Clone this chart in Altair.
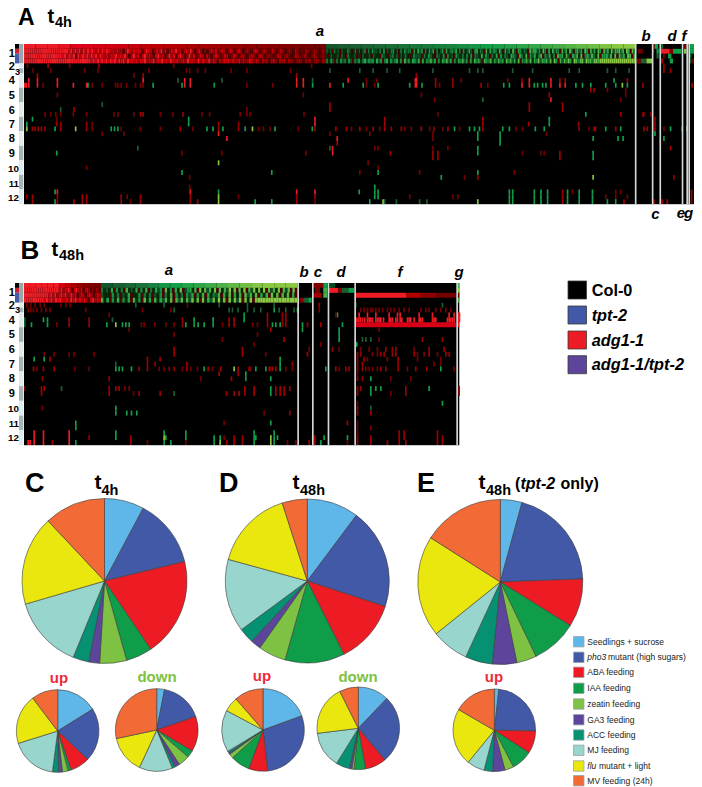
import altair as alt
import pandas as pd

W, H = 686, 779
FONT = "Liberation Sans"

# ---------- pies: slice sizes in degrees, clockwise from the top ----------
CATS = ["Seedlings + sucrose", "pho3", "ABA feeding", "IAA feeding", "zeatin feeding",
        "GA3 feeding", "ACC feeding", "MJ feeding", "flu", "MV feeding (24h)"]
COLS = ["#5eb7e8", "#4259a7", "#ed1c24", "#0f9d4a", "#7dc242",
        "#5c459b", "#069173", "#97d5cd", "#eae70f", "#f26a36"]
PIE_C = [28, 48.4, 69.5, 18.5, 19, 7.6, 11.3, 51.4, 63.1, 43.2]
PIE_D = [36.8, 71.3, 45.3, 42.4, 19.6, 7.3, 10.9, 51.7, 56.9, 17.8]
PIE_E = [15.3, 72.6, 34, 32.5, 14, 17.2, 19.2, 26.3, 71.3, 57.6]
PIE_C_UP = [58, 75.4, 27.6, 4.5, 8, 5.5, 8.4, 65.2, 70.2, 37.2]
PIE_C_DOWN = [11, 60, 49.6, 10.1, 15.9, 7, 4.2, 46.9, 53.3, 102]
PIE_D_UP = [70, 103.5, 26.8, 27.3, 6.4, 2, 2.8, 59.2, 21, 41]
PIE_D_DOWN = [43.7, 96.3, 29.8, 16.2, 3, 3.5, 19.3, 51.2, 70.4, 26.6]
PIE_E_UP = [6.5, 84.5, 31.8, 29.6, 12.6, 17.3, 12.2, 24.8, 80.9, 59.8]

# ---------- heatmap levels ----------
R, M, D, G, K, L = 3, 1.6, 0.8, -1.5, -0.8, -3

A_TOP_RED = [3, 3, 3, 2.9, 2.8, 2.7, 2.6, 2.5, 2.4, 2.3, 2.2, 2.1, 2, 1.9, 1.8, 1.7, 1.6, 1.5, 1.4, 1.3, 1.2, 1.1, 1, .9, .8, .7]
A_TOP_GRN = [-.7, -.75, -.8, -.85, -.9, -.95, -1, -1.05, -1.1, -1.15, -1.2, -1.3, -1.4, -1.5, -1.55, -1.6, -1.7, -1.8, -1.9, -2, -2.2, -2.4, -2.6, -2.8, -3, -3]
A_S1_RED = "9999999999999999999997979896979798696979867686706975868706976058695705859570684950485040584705750385047503640584036402740364025306402053025301" + "42"
A_S2_RED = "99999999999999999897989097979897969768687968696079580796750795704968079504957048507404850375037404630474037403530275035301640253025301" + "42"
A_S3_RED = "99999999999999999999999999999998989798979897989697878687967795869785976866859676595856958606486847558474586375063505740546054303540434035304" + "3"
A_S1_GRN = "2120312021132013021230314221314021341203142330415240314250312405134251304125204513206152431620524162054132063552417305162430625173046251740625174063518265736185073"
A_S2_GRN = "10211202103112010211202110321023120213101322203142103214031204213131403215142031504132154205316042513604251306451620536170452631705452617063517605"
A_S3_GRN = "31420314231420324135243415240351423514062415425051436250415362504153624051635206437152635173625170436271538264627184062738519637829573886999999999999999999"

B_TOP_RED = [3, 3, 3, 3, 3, 3, 2.6, 2.2, 1.8, 1.4, 1.1, .9, .7]
B_TOP_GRN = [-.7, -.8, -.9, -1, -1.2, -1.4, -1.5, -1.6, -1.7, -1.9, -2.1, -2.4, -2.6, -2.9, -3, -3, -3]
B_S1_RED = "999999999999999999979687960796580685040530"
B_S2_RED = "99999999999989796897967968058606850475"
B_S3_RED = "99999999989897989768597968586079685"
B_S1_GRN = "31215041306121504160315240714051702451608172618071629180719062918190726180627080"
B_S2_GRN = "21104130215011403130214031604130425041605132605170516072617051608170617050"
B_S3_GRN = "61504160415061407150615261706271628170816271918081829081908999999999999999"

# (row, level, columns)
A_LEFT = [
 (4, D, [80, 207, 520, 935]), (4, M, [142, 295]),
 (5, D, [97, 150, 252, 292, 445, 558, 568, 592, 615, 692, 740, 872]), (5, K, [990]),
 (6, M, [110, 428, 890]), (6, D, [400]),
 (7, R, [84, 110, 170, 428, 553, 570, 890, 910, 1045]), (7, K, [533, 665, 938]),
 (8, R, [72, 76, 84, 110, 170, 218, 258, 553, 570, 890, 910, 990]), (8, D, [127, 275, 305, 345, 352, 362, 378, 405, 420, 428, 740, 818]), (8, G, [262, 458, 545, 642, 938, 1030]),
 (10, D, [170, 910]), (12, K, [305]), (12, M, [990]), (13, K, [180]), (13, M, [220, 990]), (13, D, [740]),
 (14, D, [133, 150, 165, 180, 218, 258, 340, 352, 400, 480, 518, 605, 628, 720, 740, 750, 912]), (14, M, [420, 428, 548]),
 (15, G, [95, 565]), (15, D, [168]), (15, R, [945]),
 (16, M, [168, 180, 258, 655, 715]), (16, G, [78, 565]), (16, R, [945]), (16, D, [275]),
 (17, L, [78, 225]), (17, M, [95, 103, 112, 122, 133, 180, 258, 540, 655, 715, 945, 1008, 1040]), (17, G, [163, 332, 342, 352, 620, 638, 668, 735, 825, 937]),
 (17, D, [275, 362, 420, 480, 578, 775, 790, 810, 895]), (17, L, [757]),
 (18, D, [305, 370, 990]), (18, R, [655]), (19, R, [680, 1012]), (20, M, [1012]),
 (21, K, [412, 990]), (22, G, [168]), (22, D, [545, 665, 918]), (22, R, [998]), (21, R, [998]),
 (24, L, [655]), (25, D, [258]), (26, G, [545, 815]), (27, D, [568]), (29, D, [568]),
 (30, G, [163, 655]), (30, R, [170, 570, 890, 945]),
 (31, M, [78, 95, 170, 245, 258, 362, 420, 570, 890, 945]), (31, L, [655]), (31, D, [380, 715]),
 (32, M, [95, 170, 220, 245, 258, 362, 420, 570, 592, 890]), (32, G, [163, 765, 815]), (32, L, [655]), (32, D, [390, 945]),
]
A_RIGHT = [
 (5, K, [30, 70, 112, 150, 250, 360, 385, 400, 490, 550, 660, 690, 775, 800, 840]),
 (6, M, [200]), (7, R, [197, 201, 540, 605]), (7, M, [258, 310, 518, 632, 648, 835]), (7, D, [50, 80, 335, 475]), (7, G, [795]),
 (8, R, [197, 201, 518, 540, 605, 632, 648]), (8, M, [258, 310, 395, 882, 1030]), (8, D, [50, 270, 415, 75]),
 (8, G, [40, 85, 180, 217, 463, 480, 555, 565, 580, 590, 680, 700, 725, 770, 800, 835]), (8, L, [820]),
 (9, M, [725, 735]), (9, D, [775, 830]), (10, D, [215, 830]), (10, M, [600]), (11, D, [255, 815]), (11, K, [400]), (11, R, [605]),
 (12, M, [540, 640]), (13, M, [540, 640]), (14, D, [265, 885, 905]), (14, G, [710]), (14, M, [815, 882]),
 (15, M, [105, 400, 918]), (15, G, [600]), (16, M, [105, 400, 538, 688, 918]), (16, G, [600]),
 (17, M, [30, 70, 105, 125, 155, 215, 253, 295, 400, 690, 735, 739, 800, 885, 895, 918]), (17, D, [5, 50, 90, 165, 185, 240, 280, 330, 500, 520, 720, 945]),
 (17, G, [315, 360, 375, 390, 460, 480, 558, 585, 770, 815, 965, 1000]), (17, L, [1015]),
 (18, D, [60, 250, 592]), (18, G, [385, 452, 918]), (19, D, [250]), (19, G, [385, 452, 732, 807, 822, 945]), (20, G, [452]),
 (21, D, [75, 85, 250, 295]), (21, G, [385]), (21, M, [965]), (22, M, [122, 250, 265, 632]), (22, G, [385, 732]), (22, D, [520, 575, 585]),
 (23, M, [250, 265, 632]), (23, G, [732]), (24, D, [55]), (25, D, [85]), (26, G, [85, 385]), (26, D, [30, 210, 495]),
 (27, D, [345]), (27, G, [275]), (27, L, [732]), (27, M, [385, 975]), (29, G, [75]),
 (30, G, [28, 75, 85, 480, 490, 555, 575, 595, 655, 690, 730]), (30, M, [640, 1028]), (30, D, [670, 800, 815]),
 (31, G, [75, 85, 480, 490, 555, 575, 595, 655, 690, 730]), (31, D, [180, 310, 325, 770, 800, 835]), (31, M, [640, 1028]),
 (32, G, [60, 480, 490, 555, 575, 595, 655, 690, 730, 775, 800]), (32, L, [100, 385]), (32, K, [105, 140, 210, 232]), (32, M, [640, 825, 915, 940, 955, 1028]),
 (4, M, [945]), (5, M, [945, 965]),
]
# (first column, last column, row, level)
A_SPANS = [
 (865, 878, 3, 1), (878, 895, 3, K), (895, 912, 3, L), (868, 885, 1, .4),
 (915, 920, 0, M), (920, 930, 0, G), (915, 918, 1, M), (925, 932, 1, G), (925, 932, 2, K),
 (940, 945, 0, -1), (937, 965, 1, R), (965, 975, 1, 1), (975, 1000, 1, G), (960, 970, 2, G), (945, 950, 2, 1),
 (937, 945, 3, M), (965, 975, 3, G), (1008, 1015, 0, 1), (1008, 1015, 1, L),
 (1024, 1038, 0, G), (1024, 1038, 1, G), (1024, 1030, 2, -1), (1024, 1030, 3, K), (1030, 1038, 3, .6),
]
A_SEPS = [1910, 1961, 1984, 2051, 2065, 2071]

B_LEFT = [
 (4, D, [78, 90, 103, 118, 130, 180, 195, 208, 560]), (4, K, [405, 490, 655]),
 (5, D, [82, 90, 98, 108, 122, 135, 148, 255, 425, 510]), (5, K, [520, 685, 695, 712]),
 (6, D, [325]), (7, K, [72, 335]), (7, G, [128, 140, 580, 637]), (7, M, [205, 265, 545, 685, 700]),
 (8, K, [72]), (8, G, [92, 140, 318, 365, 375, 385, 555, 580, 592, 610, 637]), (8, L, [345]), (8, M, [205, 265, 545, 685, 700]),
 (8, D, [168, 422, 430, 462, 495, 520, 665]), (9, D, [385]), (10, D, [520]), (11, D, [665]), (13, M, [520]),
 (14, D, [130, 160, 205, 220, 280]), (14, M, [520]), (15, G, [100, 130]), (15, M, [148, 478, 440]), (16, K, [345]), (16, M, [440, 463, 558]),
 (17, M, [98, 128, 160, 415, 440, 520, 558, 622, 660, 712]), (17, D, [108, 222, 265, 475, 490, 505, 545, 570, 590, 635]),
 (17, G, [345, 355, 365, 392, 610]), (17, L, [700]), (18, M, [655, 712]), (19, M, [125, 325, 692]), (19, D, [600]),
 (21, M, [122, 130, 325, 345, 355]), (21, K, [182]), (21, D, [72, 372, 385]), (22, M, [122, 325, 415, 478, 677, 700, 715]), (22, D, [398]), (22, K, [520]),
 (25, D, [125]), (25, G, [345]), (26, G, [345, 378, 392, 408]), (28, G, [225]), (28, D, [670]), (29, G, [225]),
 (30, R, [100, 128, 205]), (30, G, [345, 490, 555]), (31, R, [100, 128, 205]), (31, M, [265, 390, 700]), (31, G, [345, 555, 640, 658, 495]), (31, L, [490]), (31, D, [670]),
 (32, R, [82, 88, 100, 128, 205]), (32, M, [155, 390, 678, 700]), (32, G, [225, 490, 510, 640]), (32, D, [440, 555]), (32, L, [658]),
]
B_RIGHT = [
 (4, K, [20, 100, 345, 605]), (4, M, [235]),
 (5, K, [20, 40, 60, 115, 135, 160]), (5, G, [100, 170]), (5, D, [235, 360, 370, 380, 390, 395, 405, 415, 425, 440, 450, 460, 475, 490, 505, 540, 555, 565, 585, 600, 615, 630]),
 (6, G, [10, 290]), (6, M, [80, 125, 135]), (6, D, [285]), (6, R, [355, 380, 405, 445, 470, 478, 535, 575, 625, 640, 652, 656]),
 (7, G, [10]), (7, M, [80, 125, 135]), (7, R, [348, 353, 358, 365, 372, 380, 385, 390, 395, 405, 410, 415, 420, 428, 445, 450, 455, 465, 470, 478, 483, 500, 505, 510, 520, 535, 540, 545, 575, 580, 585, 620, 625, 630, 635, 640, 652, 656]),
 (8, D, [35, 50]), (8, M, [80, 125, 135, 200, 240]), (8, G, [95, 105, 118, 185, 305]),
 (9, M, [90]), (9, G, [185, 295]), (9, D, [415]), (10, D, [50]), (10, G, [295]), (11, M, [130, 545, 605]), (11, G, [295]), (11, K, [365, 375, 390]), (11, D, [415]),
 (12, D, [40, 240]), (12, G, [348]),
 (13, M, [5, 275, 435, 455, 465, 565, 610]), (13, D, [205, 295, 360, 385, 410, 520]),
 (14, M, [5, 200, 350, 360, 420, 430, 455, 465, 520, 565, 615, 625]), (14, D, [75, 395, 410, 530, 550, 590]),
 (15, G, [118]), (15, M, [350, 370, 472]), (15, D, [380, 440, 530, 600]),
 (16, G, [118]), (16, M, [155, 350, 365, 472]), (16, D, [580, 600]),
 (17, M, [25, 85, 95, 105, 285, 315, 325, 350, 365, 420, 435, 472, 525, 558]), (17, D, [30, 90, 135, 155, 295, 375, 385, 395, 410, 500, 640]), (17, G, [45, 75, 118, 255, 600]),
 (18, G, [15]), (18, D, [350]), (19, G, [15, 90, 390]), (19, M, [350, 365]), (19, D, [450, 510]),
 (21, M, [12, 40, 105, 118, 130, 147, 350, 360, 495, 655]), (21, G, [90, 390, 405, 420, 565]),
 (22, M, [12, 40, 350, 495, 655, 105, 118, 130]), (22, G, [90, 390]), (22, D, [450]),
 (24, G, [605]), (24, D, [350]), (25, M, [350]), (25, K, [390]), (26, D, [70]), (26, M, [147, 350, 390]),
 (28, G, [90]), (28, M, [320]), (28, D, [350]), (29, D, [350, 390]),
 (30, G, [40, 100]), (30, D, [350]), (30, M, [475, 490, 590]),
 (31, M, [5, 215, 222, 350, 390, 475, 490, 590, 605]), (31, G, [40, 45, 100, 110, 250, 320]), (31, L, [90]),
 (32, M, [5, 205, 222, 350, 390, 440, 475, 495, 590, 605]), (32, G, [40, 100, 240]), (32, L, [90]), (32, D, [140, 165, 320]),
]
B_SPANS = [
 (178, 190, 3, 1), (190, 205, 3, K), (205, 215, 3, G),
 (218, 250, 0, 1), (250, 262, 0, G), (225, 240, 1, .9), (250, 262, 1, -2), (218, 245, 2, M), (250, 262, 2, -2),
 (270, 285, 0, -.6), (267, 295, 1, R), (295, 305, 1, 1), (305, 325, 1, K), (325, 342, 1, G),
 (346, 500, 2, R), (500, 540, 2, 2), (540, 590, 2, 1.3), (590, 648, 2, D),
 (346, 648, 8, 2.6), (652, 658, 8, R), (652, 658, 0, -2), (652, 658, 1, L), (652, 658, 2, D), (652, 658, 3, -2),
]
B_SEPS = [892, 936, 983, 1063, 1369]

GRAD_D = [-3, -1.5, -0.75, 0, 3]
GRAD_R = ["#8bc943", "#10a04a", "#1b5a30", "#000000", "#ee1c25"]
COLOR = alt.Color("v:Q", scale=alt.Scale(domain=GRAD_D, range=GRAD_R), legend=None)

layers = []


def panel(xdom, xrng, yrng, top_r, top_g, split, gend, speck, left, right, off, spans, seps):
    xs = alt.Scale(domain=xdom, range=xrng, nice=False, zero=False)
    ys = alt.Scale(domain=[0, 33], range=yrng, nice=False, zero=False)
    X = alt.X("x0:Q", scale=xs, axis=None)
    Y = alt.Y("r0:Q", scale=ys, axis=None)

    def rect(rows, enc_color):
        return alt.Chart(pd.DataFrame(rows)).mark_rect(strokeWidth=0).encode(
            x=X, x2="x1:Q", y=Y, y2="r1:Q", color=enc_color)

    side = [dict(x0=45, x1=57, r0=0, r1=1, c="#000000"), dict(x0=45, x1=57, r0=1, r1=2, c="#cf2030"),
            dict(x0=45, x1=57, r0=2, r1=4, c="#4a5aa8"), dict(x0=57, x1=70, r0=0, r1=4, c="#98a8a8"),
            dict(x0=57, x1=70, r0=4, r1=5, c="#e2ebeb"), dict(x0=57, x1=70, r0=5, r1=6, c="#a5b5b5")]
    for k in range(9):
        side.append(dict(x0=57, x1=70, r0=6 + 3 * k, r1=9 + 3 * k, c="#e2ebeb" if k % 2 == 0 else "#a5b5b5"))
    layers.append(rect(side, alt.Color("c:N", scale=None)))
    layers.append(rect([dict(x0=xdom[0], x1=xdom[1], r0=0, r1=33, c="#000000")], alt.Color("c:N", scale=None)))

    def strip(vals, a, b, r, out):
        w = (b - a) / len(vals)
        for i, v in enumerate(vals):
            out.append(dict(x0=a + w * i, x1=a + w * (i + 1), r0=r, r1=r + 1, v=v))

    cells = []
    strip(top_r, xdom[0], split, 0, cells)
    strip(top_g, split, gend, 0, cells)
    for r, (sr, sg) in enumerate(speck, start=1):
        strip([int(c) / 3 for c in sr], xdom[0], split, r, cells)
        strip([-int(c) / 3 for c in sg], split, gend, r, cells)
    for a, b, r, v in spans:
        cells.append(dict(x0=a + off, x1=b + off, r0=r, r1=r + 1, v=v))
    for r, v, cols in left:
        for c in cols:
            cells.append(dict(x0=c, x1=c + 5, r0=r, r1=r + 1, v=v))
    for r, v, cols in right:
        for c in cols:
            cells.append(dict(x0=c + off, x1=c + off + 5, r0=r, r1=r + 1, v=v))
    layers.append(rect(cells, COLOR))

    lines = [dict(x0=s, x1=s + 5, r0=0, r1=33, c="#d3d8d8") for s in seps]
    lines.append(dict(x0=xdom[0], x1=xdom[1], r0=33, r1=33.2, c="#c9cfcf"))
    layers.append(rect(lines, alt.Color("c:N", scale=None)))


panel([72, 2088], [16, 686], [36, 196], A_TOP_RED, A_TOP_GRN, 981, 1912,
      [(A_S1_RED, A_S1_GRN), (A_S2_RED, A_S2_GRN), (A_S3_RED, A_S3_GRN)], A_LEFT, A_RIGHT, 1050, A_SPANS, A_SEPS)
panel([72, 1378], [16, 451.3], [275, 437], B_TOP_RED, B_TOP_GRN, 303, 892,
      [(B_S1_RED, B_S1_GRN), (B_S2_RED, B_S2_GRN), (B_S3_RED, B_S3_GRN)], B_LEFT, B_RIGHT, 720, B_SPANS, B_SEPS)


def pie(vals, cx, cy, r):
    df = pd.DataFrame({"cat": CATS, "v": vals, "i": list(range(len(CATS)))})
    layers.append(alt.Chart(df).mark_arc(outerRadius=r, stroke="#3c3c3c", strokeWidth=0.6).encode(
        theta=alt.Theta("v:Q", stack=True),
        order=alt.Order("i:Q"),
        color=alt.Color("cat:N", scale=alt.Scale(domain=CATS, range=COLS), legend=None),
        x=alt.value(cx - 8), y=alt.value(cy - 8)))


pie(PIE_C, 104.5, 581, 82.5)
pie(PIE_D, 307.3, 581, 82)
pie(PIE_E, 500.3, 582, 82.5)
pie(PIE_C_UP, 57.7, 731, 41.3)
pie(PIE_C_DOWN, 156.7, 730, 41.3)
pie(PIE_D_UP, 263, 730, 41.3)
pie(PIE_D_DOWN, 358.3, 728.3, 41.3)
pie(PIE_E_UP, 494.3, 730.3, 41.3)


def txt(s, x, y, size, bold=True, italic=False, color="#000000", align="left"):
    layers.append(alt.Chart(pd.DataFrame({"t": [s]})).mark_text(
        font=FONT, fontSize=size, fontWeight="bold" if bold else "normal",
        fontStyle="italic" if italic else "normal", align=align, baseline="alphabetic", color=color
    ).encode(text="t:N", x=alt.value(x - 8), y=alt.value(y - 8)))


def swatch(x0, y0, x1, y1, fill, stroke, sw):
    layers.append(alt.Chart(pd.DataFrame({"k": [fill]})).mark_rect(stroke=stroke, strokeWidth=sw).encode(
        x=alt.value(x0 - 8), x2=alt.value(x1 - 8), y=alt.value(y0 - 8), y2=alt.value(y1 - 8),
        color=alt.Color("k:N", scale=None)))


# panel letters and titles (the drawing area starts at the page margin, y = 8)
txt("A", 18, 25, 23); txt("t", 47.5, 23, 20); txt("4h", 55, 27, 14.5)
txt("B", 20.5, 259, 26); txt("t", 51.5, 256, 20); txt("48h", 59, 260, 14.5)
txt("C", 25, 492, 27); txt("t", 94.5, 489, 21); txt("4h", 101.5, 495, 14.5)
txt("D", 219, 492, 27); txt("t", 292.5, 489, 21); txt("48h", 300, 495, 14.5)
txt("E", 417, 492, 27); txt("t", 478.5, 489, 21); txt("48h", 486, 495, 14.5)
txt("(", 515, 489, 16); txt("tpt-2", 520.5, 489, 16, italic=True); txt("only)", 560.5, 489, 16)

# cluster letters
for s, x, y in [("a", 320, 36), ("b", 646, 41), ("d", 672, 41), ("f", 684, 41), ("c", 655.5, 219), ("e", 681, 218), ("g", 688.5, 218),
                ("a", 169, 275), ("b", 304, 277), ("c", 318, 277), ("d", 341, 277), ("f", 400, 277), ("g", 459, 277)]:
    txt(s, x, y, 15, italic=True, align="center")

# row labels
ONE = ["1", "2", "4", "5", "6", "7", "8", "9"]
TWO = ["10", "11", "12"]
for s, y in zip(ONE, [57, 69.5, 84, 99, 114, 128, 142, 157]):
    txt(s, 14.8, y, 11, align="right")
for s, y in zip(TWO, [172, 187, 201]):
    txt(s, 19, y, 9.8, align="right")
txt("3", 15, 75, 9)
for s, y in zip(ONE, [296, 309, 324, 338, 353, 368, 382, 397]):
    txt(s, 14.8, y, 11, align="right")
for s, y in zip(TWO, [412, 427, 441]):
    txt(s, 19, y, 9.8, align="right")
txt("3", 15, 313, 9)

# up / down
RED_T, GRN_T = "#ee2a3a", "#7dc242"
txt("up", 59, 682.7, 15, color=RED_T, align="center")
txt("down", 157, 681.7, 15, color=GRN_T, align="center")
txt("up", 262, 680.7, 15, color=RED_T, align="center")
txt("down", 358, 682, 15, color=GRN_T, align="center")
txt("up", 494, 681.7, 15, color=RED_T, align="center")

# genotype legend
GENO = ["Col-0", "tpt-2", "adg1-1", "adg1-1/tpt-2"]
GENO_C = ["#000000", "#4259a7", "#ed1c24", "#5c459b"]
for s, c, y0, b, it in zip(GENO, GENO_C, [281, 306, 331, 355.7], [296, 321, 346, 370], [False, True, True, True]):
    swatch(568, y0, 586.5, y0 + 18, c, "#3a3a3a", 0.8)
    txt(s, 591.7, b, 16.3, italic=it)

# treatment legend
ROWS = [641.7, 657.3, 672.3, 688.3, 704, 719.7, 735, 750.3, 766, 780.7]
for c, y in zip(COLS, ROWS):
    swatch(573.5, y - 5.2, 584, y + 5.2, c, "#9aa5a8", 0.8)
TXT = "#222222"
for s, i in [("Seedlings + sucrose", 0), ("ABA feeding", 2), ("IAA feeding", 3), ("zeatin feeding", 4),
             ("GA3 feeding", 5), ("ACC feeding", 6), ("MJ feeding", 7), ("MV feeding (24h)", 9)]:
    txt(s, 587.3, ROWS[i] + 3, 8.5, bold=False, color=TXT)
txt("pho3", 587.3, ROWS[1] + 3, 8.5, bold=False, italic=True, color=TXT)
txt("mutant (high sugars)", 608, ROWS[1] + 3, 8.5, bold=False, color=TXT)
txt("flu", 587.3, ROWS[8] + 3, 8.5, bold=False, italic=True, color=TXT)
txt("mutant + light", 599, ROWS[8] + 3, 8.5, bold=False, color=TXT)

chart = alt.layer(*layers).resolve_scale(x="independent", y="independent", color="independent", theta="independent").properties(
    width=W, height=H, padding=0, autosize=alt.AutoSizeParams(type="none"),
    background="#ffffff").configure_view(stroke=None)

chart.save("out.html", embed_options={"renderer": "svg", "actions": False})
